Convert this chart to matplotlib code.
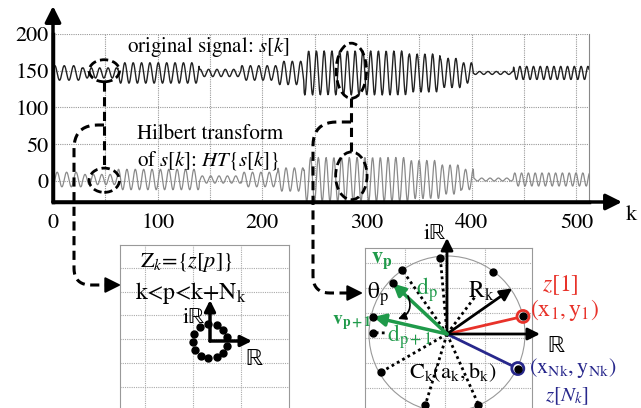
import numpy as np
import matplotlib
matplotlib.use('Agg')
import matplotlib.pyplot as plt
from matplotlib.patches import Ellipse, Circle

plt.rcParams['font.family'] = ['STIXGeneral', 'DejaVu Serif']
plt.rcParams['mathtext.fontset'] = 'stix'

# signal: piecewise amplitude / period
seg_start = [0, 28, 62, 140, 180, 215, 240, 340, 370, 390, 402, 440]
seg_amp = [10, 7, 14, 5, 10, 16, 30, 26, 20, 14, 2, 9]
seg_period = [9, 8, 8, 8, 8, 8, 7.4, 7.4, 7.4, 7.4, 8, 6.5]
k_end = 512
s_offset = 147
ht_offset = 2

x_ticks = [0, 100, 200, 300, 400, 500]
y_ticks = [0, 50, 100, 150, 200]

# dashed windows on the signals (k, value, width, height)
win_k = [49, 49, 285, 285]
win_val = [150, 1, 150, 7]
win_w = [29, 29, 29, 30]
win_h = [30, 33, 75, 65]

# right diagram: points z[p] on circle (angle deg, radius fraction)
dot_ang = [95, 125, 137, 53, 167, 179, 210, 253, 294, 13, 334]
dot_rad = [0.98, 1.0, 0.95, 0.99, 0.97, 0.95, 0.97, 0.95, 0.99, 1.0, 1.01]
# dotted rays (angle, from fraction, to fraction)
ray_ang = [95, 125, 53, 179, 210, 253, 294]
ray_from = [0, 0, 0, 0.8, 0, 0, 0]
ray_to = [0.98, 1.0, 0.6, 0.95, 0.97, 0.95, 0.99]
rk_ang = 35
vp_ang, vp1_ang = 137, 167
z1_ang, zn_ang = 13, 334

# left diagram: small cluster of points
small_ang = [95, 68, 40, 12, -15, -42, -68, -95, -122, -150, -178, 155, 125]

green = '#1f9a4a'
red = '#e8322a'
blue = '#28288c'

fig = plt.figure(figsize=(6.41, 4.08), dpi=100)

def fx(x):
    return x / 641

def fy(y):
    return 1 - y / 408

# ---- main signal chart
ax = fig.add_axes([fx(53), fy(202), fx(589 - 53), (202 - 34) / 408])
k = np.arange(0, k_end + 0.001, 0.5)
idx = np.searchsorted(seg_start, k, side='right') - 1
amp = np.array(seg_amp)[idx]
per = np.array(seg_period)[idx]
phase = np.cumsum(2 * np.pi / per * 0.5)
s = s_offset + amp * np.sin(phase)
ht = ht_offset - amp * np.cos(phase)
ax.plot(k, ht, color='#8a8a8a', lw=0.9)
ax.plot(k, s, color='#222222', lw=1.0)
ax.set_xlim(0, k_end)
ax.set_ylim(-28.6, 200)
ax.set_xticks(x_ticks)
ax.set_yticks(y_ticks)
ax.set_xticks(np.arange(50, 501, 100), minor=True)
ax.grid(True, which='both', color='#999999', ls=(0, (1, 1)), lw=0.8)
ax.tick_params(length=0, which='both', labelsize=16)
ax.tick_params(axis='x', pad=8)
ax.tick_params(axis='y', pad=3)
for sp in ['left', 'bottom']:
    ax.spines[sp].set_linewidth(2.5)
ax.spines['top'].set_visible(False)
ax.spines['right'].set_color('#888888')
ax.spines['right'].set_linewidth(0.8)

for wk, wv, ww, wh in zip(win_k, win_val, win_w, win_h):
    ax.add_patch(Ellipse((wk, wv), ww, wh, fill=False, ec='k', lw=2,
                         ls=(0, (3, 1.5)), zorder=5))
ax.plot([win_k[0], win_k[0]], [win_val[0] - win_h[0] / 2, win_val[1] + win_h[1] / 2],
        color='k', lw=2.2, ls=(0, (3, 1.8)), zorder=5)
ax.plot([win_k[2], win_k[2]], [win_val[2] - win_h[2] / 2, win_val[3] + win_h[3] / 2],
        color='k', lw=2.2, ls=(0, (3, 1.8)), zorder=5)

# ---- inset grids
def inset(x0, x1, y0, xt, yt):
    a = fig.add_axes([fx(x0), 0, fx(x1 - x0), (408 - y0) / 408])
    a.set_xlim(x0, x1)
    a.set_ylim(408, y0)
    a.set_xticks(xt)
    a.set_yticks(yt)
    a.tick_params(length=0, labelleft=False, labelbottom=False)
    a.grid(True, color='#aaaaaa', ls=(0, (1, 1)), lw=0.8)
    for sp in a.spines.values():
        sp.set_color('#999999')
        sp.set_linewidth(0.8)
    a.spines['bottom'].set_visible(False)
    return a

axl = inset(120, 289, 245, [145, 193, 241], [268, 292, 315, 339, 363, 387])
axr = inset(365, 532, 248, [405, 445, 485], [263, 288, 313, 338, 363, 388])

# ---- overlay in pixel coordinates
ov = fig.add_axes([0, 0, 1, 1], zorder=10)
ov.set_xlim(0, 641)
ov.set_ylim(408, 0)
ov.axis('off')
ov.patch.set_visible(False)

def arrow(p0, p1, color='k', lw=2, ms=18):
    ov.annotate('', xy=p1, xytext=p0,
                arrowprops=dict(arrowstyle='-|>', color=color, lw=lw,
                                mutation_scale=ms, shrinkA=0, shrinkB=0))

# axis arrows
arrow((53, 202), (53, 6), lw=2.5, ms=24)
arrow((53, 202), (622, 202), lw=2.5, ms=24)
ov.text(631, 215, 'k', fontsize=16, ha='center', va='center')

ov.text(208, 47, r'original signal: $s[k]$', fontsize=15, ha='center', va='center')
ov.text(210, 134, 'Hilbert transform', fontsize=15, ha='center', va='center')
ov.text(208, 160, r'of $s[k]$: $HT\{s[k]\}$', fontsize=15, ha='center', va='center')

# dashed connectors with rounded corners
def rounded(pts, r):
    out = [pts[0]]
    for i in range(1, len(pts) - 1):
        p = np.array(pts[i], float)
        a = np.array(pts[i - 1], float)
        b = np.array(pts[i + 1], float)
        da = (a - p) / np.linalg.norm(a - p)
        db = (b - p) / np.linalg.norm(b - p)
        q0 = p + da * r[i - 1]
        q1 = p + db * r[i - 1]
        for t in np.linspace(0, 1, 12):
            out.append((1 - t) ** 2 * q0 + 2 * t * (1 - t) * p + t ** 2 * q1)
    out.append(pts[-1])
    return np.array(out, float)

for pts, rr, tip in [([(104, 125), (74, 125), (74, 285), (106, 285)], [24, 17], (121, 285)),
                     ([(351, 122), (313, 122), (313, 293), (347, 293)], [24, 17], (363, 293))]:
    c = rounded(pts, rr)
    ov.plot(c[:, 0], c[:, 1], color='k', lw=2.2, ls=(0, (3, 1.8)))
    arrow((tip[0] - 14, tip[1]), tip, lw=1.5, ms=24)

# ---- right diagram
cx, cy, R = 447, 334, 78

def pol(a, r):
    return cx + R * r * np.cos(np.radians(a)), cy - R * r * np.sin(np.radians(a))

ov.add_patch(Circle((cx, cy), R, fill=False, ec='#999999', lw=0.8))
for a, r0, r1 in zip(ray_ang, ray_from, ray_to):
    p0, p1 = pol(a, r0), pol(a, r1)
    ov.plot([p0[0], p1[0]], [p0[1], p1[1]], color='k', lw=2, ls=(0, (1, 1.2)))

z1 = pol(z1_ang, dot_rad[dot_ang.index(z1_ang)])
zn = pol(zn_ang, dot_rad[dot_ang.index(zn_ang)])
ov.plot([cx, z1[0]], [cy, z1[1]], color=red, lw=2)
ov.plot([cx, zn[0]], [cy, zn[1]], color=blue, lw=2)
ov.add_patch(Circle(z1, 6, fc='white', ec=red, lw=2, zorder=3))
ov.add_patch(Circle(zn, 6, fc='white', ec=blue, lw=2, zorder=3))

arrow((cx, cy), (cx, 238), lw=2, ms=18)
arrow((cx, cy), (540, cy), lw=2, ms=18)
arrow((cx, cy), pol(rk_ang, 1.02), lw=2, ms=18)
arrow((cx, cy), pol(vp_ang, 0.95), color=green, lw=2.5, ms=18)
arrow((cx, cy), pol(vp1_ang, 0.97), color=green, lw=2.5, ms=18)

dx = [pol(a, r)[0] for a, r in zip(dot_ang, dot_rad)]
dy = [pol(a, r)[1] for a, r in zip(dot_ang, dot_rad)]
ov.plot(dx, dy, 'o', color='k', ms=5, zorder=4)

ov.annotate('', xy=(398, 319), xytext=(408, 296),
            arrowprops=dict(arrowstyle='-|>', color='k', lw=1.2, mutation_scale=12,
                            connectionstyle='arc3,rad=-0.5', shrinkA=0, shrinkB=0))

ov.text(435, 234, 'iℝ', fontsize=16, ha='center', va='center')
ov.text(556, 346, 'ℝ', fontsize=17, ha='center', va='center')
ov.text(382, 261, r'$\mathbf{v}_\mathbf{p}$', fontsize=16, color=green, ha='center', va='center')
ov.text(378, 294, r'$\mathrm{\theta}_\mathrm{p}$', fontsize=17, ha='center', va='center')
ov.text(427, 290, r'$\mathrm{d}_\mathrm{p}$', fontsize=17, color=green, ha='center', va='center')
ov.text(352, 323, r'$\mathbf{v}_\mathbf{p+1}$', fontsize=14, color=green, ha='center', va='center')
ov.text(410, 337, r'$\mathrm{d}_\mathrm{p+1}$', fontsize=17, color=green, ha='center', va='center')
ov.text(481, 291, r'$\mathrm{R}_\mathrm{k}$', fontsize=17, ha='center', va='center')
ov.text(453, 372, r'$\mathrm{C}_\mathrm{k}(\mathrm{a}_\mathrm{k},\mathrm{b}_\mathrm{k})$',
        fontsize=16, ha='center', va='center')
ov.text(560, 285, r'$z[1]$', fontsize=17, color=red, ha='center', va='center')
ov.text(565, 310, r'$(\mathrm{x}_\mathrm{1},\mathrm{y}_\mathrm{1})$', fontsize=17,
        color=red, ha='center', va='center')
ov.text(573, 368, r'$(\mathrm{x}_\mathrm{Nk},\mathrm{y}_\mathrm{Nk})$', fontsize=16,
        color=blue, ha='center', va='center')
ov.text(567, 396, r'$z[N_k]$', fontsize=15, color=blue, ha='center', va='center')

# ---- left diagram
lx, ly, lr = 210, 341, 17.5
ov.plot(lx + lr * np.cos(np.radians(small_ang)), ly - lr * np.sin(np.radians(small_ang)),
        'o', color='k', ms=5, zorder=4)
arrow((lx, ly), (lx, 300), lw=2.5, ms=16)
arrow((lx, ly), (252, ly), lw=2.5, ms=16)
ov.text(194, 318, 'iℝ', fontsize=16, ha='center', va='center')
ov.text(254, 359, 'ℝ', fontsize=17, ha='center', va='center')
ov.text(186, 263, r'Z$_k$=$\{z[p]\}$', fontsize=16, ha='center', va='center')
ov.text(191, 293, r'k<p<k+N$_\mathrm{k}$', fontsize=17, ha='center', va='center')

fig.savefig('out.png', dpi=100)
